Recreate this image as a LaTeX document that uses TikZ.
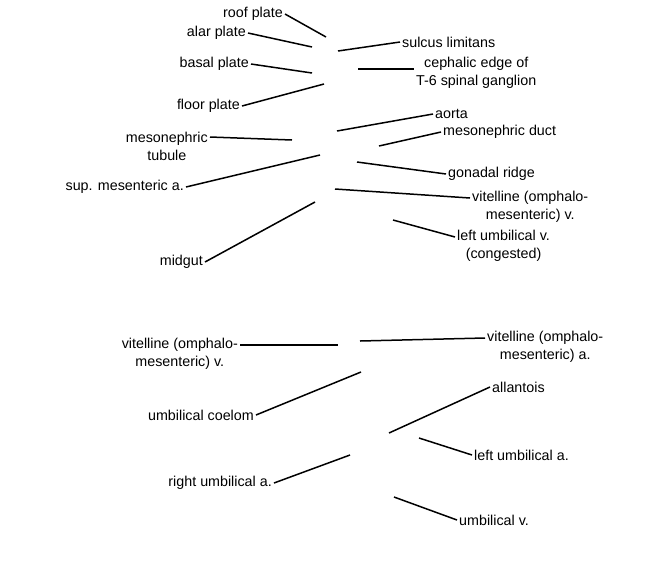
\documentclass[tikz,border=0pt]{standalone}
\usepackage{fontspec}
\setmainfont{Liberation Sans}
\usetikzlibrary{calc,positioning}

\begin{document}
\begin{tikzpicture}[x=1pt,y=-1pt,lbl/.style={font=\fontsize{14.3}{18}\selectfont,inner sep=2pt,align=center},lead/.style={line width=1.5pt,draw=black}]
  \useasboundingbox (0,0) rectangle (650,582);

  \node[lbl,anchor=east] (roof) at (285,14) {roof plate};
  \node[lbl,anchor=east] (alar) at (248,33) {alar plate};
  \node[lbl,anchor=west] (sulcus) at (400,42) {sulcus limitans};
  \node[lbl,anchor=east] (basal) at (251,64) {basal plate};
  \node[lbl,anchor=west] (ceph) at (414,73) {cephalic edge of\\T-6 spinal ganglion};
  \node[lbl,anchor=east] (floor) at (242,106) {floor plate};
  \node[lbl,anchor=west] (aorta) at (433,114) {aorta};
  \node[lbl,anchor=west] (duct) at (441,132) {mesonephric duct};
  \node[lbl,anchor=east] (tub) at (210,146) {mesonephric\\tubule};
  \node[lbl,anchor=east] (sma) at (186,187) {sup. mesenteric a.};
  \node[lbl,anchor=west] (gonad) at (446,174) {gonadal ridge};
  \node[lbl,anchor=west] (vv) at (470,207) {vitelline (omphalo-\\mesenteric) v.};
  \node[lbl,anchor=east] (midgut) at (205,262) {midgut};
  \node[lbl,anchor=west] (luv) at (455,246) {left umbilical v.\\(congested)};

  \coordinate (roofpt) at (326,37);
  \coordinate (alarpt) at (312,47);
  \coordinate (sulcuspt) at (338,51);
  \coordinate (basalpt) at (312,73);
  \coordinate (cephpt) at (358,69);
  \coordinate (floorpt) at (324,84);
  \coordinate (aortapt) at (337,131);
  \coordinate (ductpt) at (379,146);
  \coordinate (tubpt) at (292,140);
  \coordinate (smapt) at (320,155);
  \coordinate (gonadpt) at (357,162);
  \coordinate (vvpt) at (335,189);
  \coordinate (midgutpt) at (315,202);
  \coordinate (luvpt) at (393,220);

  \draw[lead] (roof.east) -- (roofpt);
  \draw[lead] (alar.east) -- (alarpt);
  \draw[lead] (sulcuspt) -- (sulcus.west);
  \draw[lead] (basal.east) -- (basalpt);
  \draw[lead] (cephpt) -- (cephpt -| ceph.west);
  \draw[lead] (floor.east) -- (floorpt);
  \draw[lead] (aortapt) -- (aorta.west);
  \draw[lead] (ductpt) -- (duct.west);
  \draw[lead] ([yshift=9pt]tub.east) -- (tubpt);
  \draw[lead] (sma.east) -- (smapt);
  \draw[lead] (gonadpt) -- (gonad.west);
  \draw[lead] (vvpt) -- ([yshift=9pt]vv.west);
  \draw[lead] (midgut.east) -- (midgutpt);
  \draw[lead] (luvpt) -- ([yshift=9pt]luv.west);

  \node[lbl,anchor=east] (vl) at (240,354) {vitelline (omphalo-\\mesenteric) v.};
  \node[lbl,anchor=west] (va) at (485,347) {vitelline (omphalo-\\mesenteric) a.};
  \node[lbl,anchor=east] (coelom) at (256,415) {umbilical coelom};
  \node[lbl,anchor=west] (allan) at (490,387) {allantois};
  \node[lbl,anchor=west] (lua) at (472,455) {left umbilical a.};
  \node[lbl,anchor=east] (rua) at (274,483) {right umbilical a.};
  \node[lbl,anchor=west] (uv) at (457,520) {umbilical v.};

  \coordinate (vlpt) at (338,345);
  \coordinate (vapt) at (360,341);
  \coordinate (coelompt) at (361,372);
  \coordinate (allanpt) at (389,433);
  \coordinate (luapt) at (419,438);
  \coordinate (ruapt) at (350,455);
  \coordinate (uvpt) at (394,497);

  \draw[lead] ([yshift=9pt]vl.east) -- (vlpt);
  \draw[lead] (vapt) -- ([yshift=9pt]va.west);
  \draw[lead] (coelom.east) -- (coelompt);
  \draw[lead] (allanpt) -- (allan.west);
  \draw[lead] (luapt) -- (lua.west);
  \draw[lead] (rua.east) -- (ruapt);
  \draw[lead] (uvpt) -- (uv.west);
\end{tikzpicture}
\end{document}
